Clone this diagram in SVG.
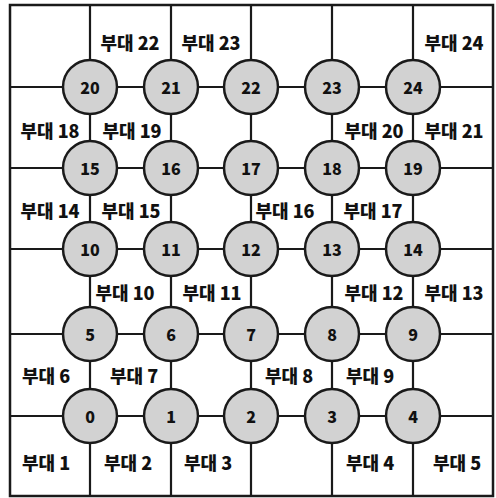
<svg xmlns="http://www.w3.org/2000/svg" width="496" height="498" viewBox="0 0 496 498">
<style>
.ln{stroke:#1a1a1a;stroke-width:2.2;fill:none}
.bd{stroke:#1a1a1a;stroke-width:2.5;fill:none}
.nd circle{fill:#d2d2d2;stroke:#1a1a1a;stroke-width:2.5}
.nd text{font-family:"Noto Sans CJK KR","Noto Sans",sans-serif;font-weight:900;font-size:16px;fill:#111;text-anchor:middle;dominant-baseline:central}
.lb{font-family:"Noto Sans CJK KR","Noto Sans",sans-serif;font-weight:900;font-size:18px;fill:#111;text-anchor:middle;dominant-baseline:central}
</style>
<rect width="496" height="498" fill="#fff"/>
<g id="connectors">
<rect class="bd" x="10" y="5" width="483" height="491"/>
<path class="ln" d="M10 87H493M10 168H493M10 249H493M10 334H493M10 416H493"/>
<path class="ln" d="M90 5V496M171 5V496M251 5V496M332 5V496M413 5V496"/>
</g>
<g id="labels">
<text class="lb" x="130" y="42">부대 22</text>
<text class="lb" x="211" y="42">부대 23</text>
<text class="lb" x="454" y="42">부대 24</text>
<text class="lb" x="50" y="130">부대 18</text>
<text class="lb" x="132" y="130">부대 19</text>
<text class="lb" x="374" y="130">부대 20</text>
<text class="lb" x="454" y="130">부대 21</text>
<text class="lb" x="50" y="210">부대 14</text>
<text class="lb" x="131" y="210">부대 15</text>
<text class="lb" x="285" y="210">부대 16</text>
<text class="lb" x="373" y="210">부대 17</text>
<text class="lb" x="125" y="292">부대 10</text>
<text class="lb" x="212" y="292">부대 11</text>
<text class="lb" x="374" y="292">부대 12</text>
<text class="lb" x="454" y="292">부대 13</text>
<text class="lb" x="46" y="375">부대 6</text>
<text class="lb" x="134" y="375">부대 7</text>
<text class="lb" x="289" y="375">부대 8</text>
<text class="lb" x="370" y="375">부대 9</text>
<text class="lb" x="46" y="462">부대 1</text>
<text class="lb" x="128" y="462">부대 2</text>
<text class="lb" x="208" y="462">부대 3</text>
<text class="lb" x="370" y="462">부대 4</text>
<text class="lb" x="457" y="462">부대 5</text>
</g>
<g id="n20" class="nd"><circle cx="90" cy="87" r="27"/><text x="90" y="87">20</text></g>
<g id="n21" class="nd"><circle cx="171" cy="87" r="27"/><text x="171" y="87">21</text></g>
<g id="n22" class="nd"><circle cx="251" cy="87" r="27"/><text x="251" y="87">22</text></g>
<g id="n23" class="nd"><circle cx="332" cy="87" r="27"/><text x="332" y="87">23</text></g>
<g id="n24" class="nd"><circle cx="413" cy="87" r="27"/><text x="413" y="87">24</text></g>
<g id="n15" class="nd"><circle cx="90" cy="168" r="27"/><text x="90" y="168">15</text></g>
<g id="n16" class="nd"><circle cx="171" cy="168" r="27"/><text x="171" y="168">16</text></g>
<g id="n17" class="nd"><circle cx="251" cy="168" r="27"/><text x="251" y="168">17</text></g>
<g id="n18" class="nd"><circle cx="332" cy="168" r="27"/><text x="332" y="168">18</text></g>
<g id="n19" class="nd"><circle cx="413" cy="168" r="27"/><text x="413" y="168">19</text></g>
<g id="n10" class="nd"><circle cx="90" cy="249" r="27"/><text x="90" y="249">10</text></g>
<g id="n11" class="nd"><circle cx="171" cy="249" r="27"/><text x="171" y="249">11</text></g>
<g id="n12" class="nd"><circle cx="251" cy="249" r="27"/><text x="251" y="249">12</text></g>
<g id="n13" class="nd"><circle cx="332" cy="249" r="27"/><text x="332" y="249">13</text></g>
<g id="n14" class="nd"><circle cx="413" cy="249" r="27"/><text x="413" y="249">14</text></g>
<g id="n5" class="nd"><circle cx="90" cy="334" r="27"/><text x="90" y="334">5</text></g>
<g id="n6" class="nd"><circle cx="171" cy="334" r="27"/><text x="171" y="334">6</text></g>
<g id="n7" class="nd"><circle cx="251" cy="334" r="27"/><text x="251" y="334">7</text></g>
<g id="n8" class="nd"><circle cx="332" cy="334" r="27"/><text x="332" y="334">8</text></g>
<g id="n9" class="nd"><circle cx="413" cy="334" r="27"/><text x="413" y="334">9</text></g>
<g id="n0" class="nd"><circle cx="90" cy="416" r="27"/><text x="90" y="416">0</text></g>
<g id="n1" class="nd"><circle cx="171" cy="416" r="27"/><text x="171" y="416">1</text></g>
<g id="n2" class="nd"><circle cx="251" cy="416" r="27"/><text x="251" y="416">2</text></g>
<g id="n3" class="nd"><circle cx="332" cy="416" r="27"/><text x="332" y="416">3</text></g>
<g id="n4" class="nd"><circle cx="413" cy="416" r="27"/><text x="413" y="416">4</text></g>
</svg>
